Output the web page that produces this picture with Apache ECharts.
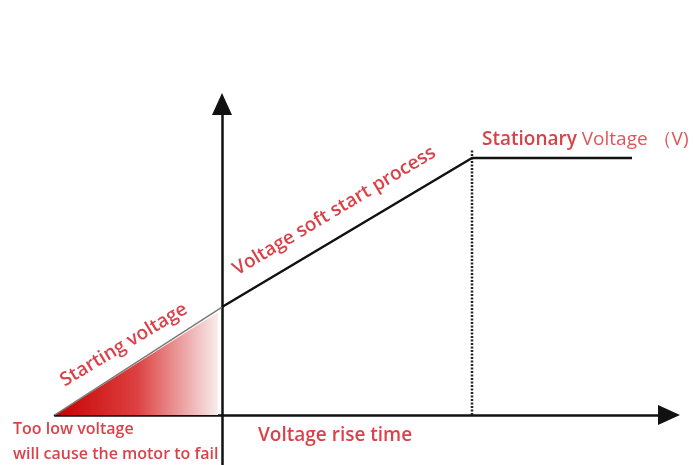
<!DOCTYPE html>
<html>
<head>
<meta charset="utf-8">
<script src="https://cdn.jsdelivr.net/npm/echarts@6/dist/echarts.min.js"></script>
<style>html,body{margin:0;padding:0;background:#fff}#c{width:700px;height:465px}</style>
</head>
<body>
<div id="c"></div>
<script>
// Axis ranges (time units, voltage units)
const xRange = [-6.68, 17.88];
const yRange = [-19.46, 121];
// Soft start voltage curve: start voltage -> ramp -> stationary voltage
const processPoints = [[0, 42], [10, 100], [16.4, 100]];
// Starting-voltage triangle (shaded) and its edge
const startTriangle = [[-6.68, 0], [-0.16, 40]];
const startEdge = [[-6.68, 0], [0, 42]];
// End of rise time (dotted marker)
const riseEnd = [[10, 0], [10, 103]];
// Annotation texts and their anchor points
const annoText = ['Voltage soft start process', 'Starting voltage', '{b|Stationary} {n|Voltage （V)}', 'Voltage rise time', 'Too low voltage', 'will cause the motor to fail'];
const annoX = [0.5, -6.4, 10.4, 1.44, -8.36, -8.36];
const annoY = [56, 12.8, 107, -8.2, -5.8, -15.2];
const annoRotate = [31, 31, 0, 0, 0, 0];
const annoSize = [19, 19, 19, 19, 16, 16];

const RED = '#d1121b';
const FONT = '"Open Sans", "Noto Sans", sans-serif';

const chart = echarts.init(document.getElementById('c'));
const annoData = annoText.map((t, i) => ({
  value: [annoX[i], annoY[i]],
  label: {
    formatter: t,
    rotate: annoRotate[i],
    fontSize: annoSize[i]
  }
}));

chart.setOption({
  animation: false,
  backgroundColor: '#fff',
  grid: { left: 55, right: 31, top: 104, bottom: 0 },
  xAxis: {
    type: 'value', min: xRange[0], max: xRange[1],
    axisLine: { onZero: true, symbol: ['none', 'triangle'], symbolSize: [20, 22], lineStyle: { color: '#111', width: 2.5 } },
    axisTick: { show: false }, axisLabel: { show: false }, splitLine: { show: false }
  },
  yAxis: {
    type: 'value', min: yRange[0], max: yRange[1],
    axisLine: { onZero: true, symbol: ['none', 'triangle'], symbolSize: [20, 22], lineStyle: { color: '#111', width: 2.5 } },
    axisTick: { show: false }, axisLabel: { show: false }, splitLine: { show: false }
  },
  series: [
    {
      type: 'line', data: startTriangle, symbol: 'none', silent: true,
      lineStyle: { width: 0 },
      areaStyle: {
        opacity: 1,
        color: new echarts.graphic.LinearGradient(0, 0, 1, 0, [
          { offset: 0, color: '#c80000' },
          { offset: 0.5, color: '#dc4040' },
          { offset: 1, color: '#f8eded' }
        ])
      }
    },
    {
      type: 'line', data: startEdge, symbol: 'none', silent: true,
      lineStyle: { color: '#7a7a7a', width: 1.5 }
    },
    {
      type: 'line', data: riseEnd, symbol: 'none', silent: true,
      lineStyle: { color: '#222', width: 2.5, type: [2, 1.5] }
    },
    {
      type: 'line', data: processPoints, symbol: 'none', silent: true,
      lineStyle: { color: '#111', width: 2.5 }
    },
    {
      type: 'scatter', data: annoData, symbolSize: 0, clip: false, silent: true,
      label: {
        show: true, position: [0, 0], align: 'left', verticalAlign: 'middle',
        color: RED, fontFamily: FONT, fontSize: 19, fontWeight: 600,
        rich: {
          b: { color: '#cc1219', fontFamily: FONT, fontSize: 19, fontWeight: 600 },
          n: { color: '#d42a30', fontFamily: FONT, fontSize: 19, fontWeight: 'normal' }
        }
      }
    }
  ]
});
</script>
</body>
</html>
